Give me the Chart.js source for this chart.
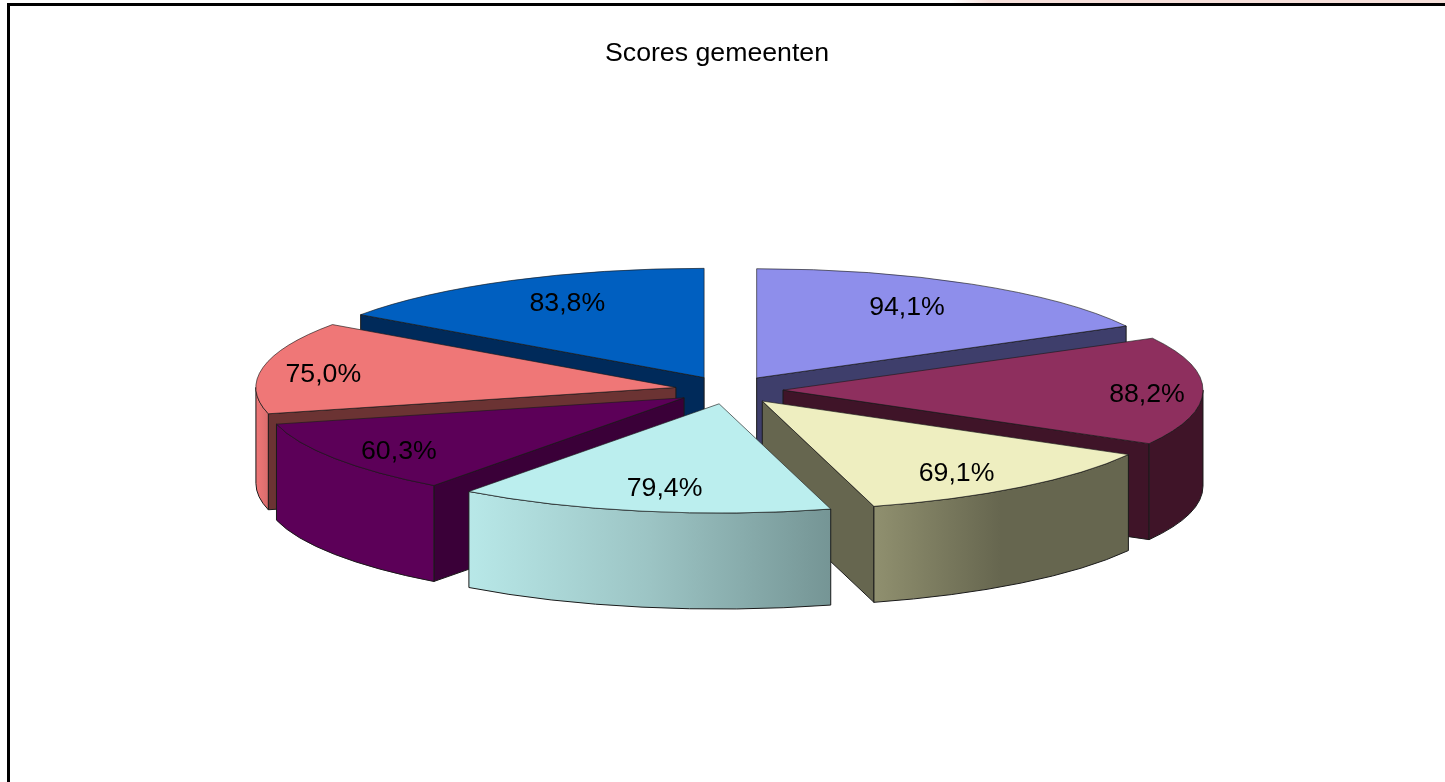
<!DOCTYPE html>
<html lang="nl">
<head>
<meta charset="utf-8">
<title>Scores gemeenten</title>
<script src="https://cdn.jsdelivr.net/npm/chart.js@4"></script>
<style>
  html, body { margin: 0; padding: 0; background: #fff; overflow: hidden; }
  #wrap { position: relative; width: 1445px; height: 782px; }
  #frame { position: absolute; left: 7px; top: 3px; right: 0; bottom: 0; border-left: 3px solid #000; border-top: 3px solid #000; }
  #tint { position: absolute; left: 950px; right: 0; top: 0; height: 3px; background: linear-gradient(90deg, #fff, #f6dfda 40px); }
  canvas { position: absolute; left: 0; top: 0; }
</style>
</head>
<body>
<div id="wrap">
  <div id="tint"></div>
  <div id="frame"></div>
  <canvas id="pie" width="1445" height="782"></canvas>
</div>
<script>
const scores = [94.1, 88.2, 69.1, 79.4, 60.3, 75.0, 83.8];
const scoreLabels = ["94,1%", "88,2%", "69,1%", "79,4%", "60,3%", "75,0%", "83,8%"];

// colours per slice
const topColors = ["#8e8eeb", "#8e2f5e", "#eeeec0", "#bbeeee", "#5c0058", "#ef7777", "#005fc0"];
const cutColors = ["#3e3e6b", "#3f1428", "#66664f", "#6b8a8a", "#3a0038", "#6b3333", "#002a5a"];
const sideLeft = ["#3e3e6b", "#3f1428", "#90906f", "#b8e8e8", "#5c0058", "#ef7777", "#002a5a"];
const sideMid = ["#3e3e6b", "#3f1428", "#66664f", "#9cc4c4", "#5c0058", "#e57272", "#002a5a"];
const sideRight = ["#3e3e6b", "#3f1428", "#66664f", "#759595", "#5c0058", "#d86c6c", "#002a5a"];

// where the percentage sits inside each slice
const labelFrac = [0.75, 0.867, 0.798, 0.773, 0.83, 0.85, 0.764];
const labelTurn = [-2.3, 1.3, 2.6, -0.9, -1.4, -1.6, 2.2];
const labelDrop = 2;

// fake 3D settings
const pieX = 729;
const pieY = 390;
const tilt = 0.26;
const depth = 96;
const explode = 54;
const edgeColor = "#1a1a1a";

const pie3d = {
  id: "pie3d",
  beforeDatasetDraw(chart) {
    const ctx = chart.ctx;
    const arcs = chart.getDatasetMeta(0).data;
    const order = arcs.map((a, i) => i).sort((a, b) => midSin(arcs[a]) - midSin(arcs[b]));

    order.forEach((i) => {
      const arc = arcs[i];
      const mid = (arc.startAngle + arc.endAngle) / 2;
      const ox = pieX + Math.cos(mid) * explode;
      const oy = pieY + Math.sin(mid) * explode * tilt;

      // cut walls, only the ones facing us
      if (Math.cos(arc.startAngle) < -0.001) drawCut(ctx, arc, arc.startAngle, ox, oy, cutColors[i]);
      if (Math.cos(arc.endAngle) > 0.001) drawCut(ctx, arc, arc.endAngle, ox, oy, cutColors[i]);
      drawSide(ctx, arc, ox, oy, i);

      // top face is the library's own arc, squashed
      ctx.save();
      ctx.translate(ox, oy);
      ctx.scale(1, tilt);
      ctx.translate(-arc.x, -arc.y);
      arc.draw(ctx);
      ctx.restore();
    });

    // labels last
    ctx.save();
    ctx.font = '26.7px "Liberation Sans", Arial, sans-serif';
    ctx.fillStyle = "#000";
    ctx.textAlign = "center";
    ctx.textBaseline = "middle";
    arcs.forEach((arc, i) => {
      const mid = (arc.startAngle + arc.endAngle) / 2;
      const ang = mid + (labelTurn[i] * Math.PI) / 180;
      const r = arc.outerRadius * labelFrac[i];
      const ox = pieX + Math.cos(mid) * explode;
      const oy = pieY + Math.sin(mid) * explode * tilt;
      ctx.fillText(scoreLabels[i], ox + Math.cos(ang) * r, oy + Math.sin(ang) * r * tilt + labelDrop);
    });
    ctx.restore();
    return false;
  },
};

function midSin(arc) {
  return Math.sin((arc.startAngle + arc.endAngle) / 2);
}

function drawCut(ctx, arc, angle, ox, oy, color) {
  const ex = ox + Math.cos(angle) * arc.outerRadius;
  const ey = oy + Math.sin(angle) * arc.outerRadius * tilt;
  ctx.beginPath();
  ctx.moveTo(ox, oy);
  ctx.lineTo(ex, ey);
  ctx.lineTo(ex, ey + depth);
  ctx.lineTo(ox, oy + depth);
  ctx.closePath();
  ctx.fillStyle = color;
  ctx.strokeStyle = edgeColor;
  ctx.lineWidth = 1;
  ctx.fill();
  ctx.stroke();
}

function drawSide(ctx, arc, ox, oy, i) {
  const a0 = Math.max(arc.startAngle, 0);
  const a1 = Math.min(arc.endAngle, Math.PI);
  if (a1 <= a0) return;
  const R = arc.outerRadius;
  const leftX = ox + Math.cos(a1) * R;
  const rightX = ox + Math.cos(a0) * R;
  const grad = ctx.createLinearGradient(leftX, 0, rightX, 0);
  grad.addColorStop(0, sideLeft[i]);
  grad.addColorStop(0.5, sideMid[i]);
  grad.addColorStop(1, sideRight[i]);
  ctx.beginPath();
  ctx.ellipse(ox, oy, R, R * tilt, 0, a0, a1);
  ctx.ellipse(ox, oy + depth, R, R * tilt, 0, a1, a0, true);
  ctx.closePath();
  ctx.fillStyle = grad;
  ctx.strokeStyle = edgeColor;
  ctx.lineWidth = 1;
  ctx.fill();
  ctx.stroke();
}

new Chart(document.getElementById("pie").getContext("2d"), {
  type: "pie",
  data: {
    labels: scoreLabels,
    datasets: [
      {
        data: scores,
        backgroundColor: topColors,
        borderColor: edgeColor,
        borderWidth: 1,
        radius: 420,
        clip: false,
      },
    ],
  },
  options: {
    responsive: false,
    animation: false,
    layout: { padding: { right: 11 } },
    plugins: {
      legend: { display: false },
      tooltip: { enabled: false },
      title: {
        display: true,
        text: "Scores gemeenten",
        color: "#000",
        font: { family: '"Liberation Sans", Arial, sans-serif', size: 26.7, weight: "normal" },
        padding: { top: 38, bottom: 0 },
      },
    },
  },
  plugins: [pie3d],
});
</script>
</body>
</html>
